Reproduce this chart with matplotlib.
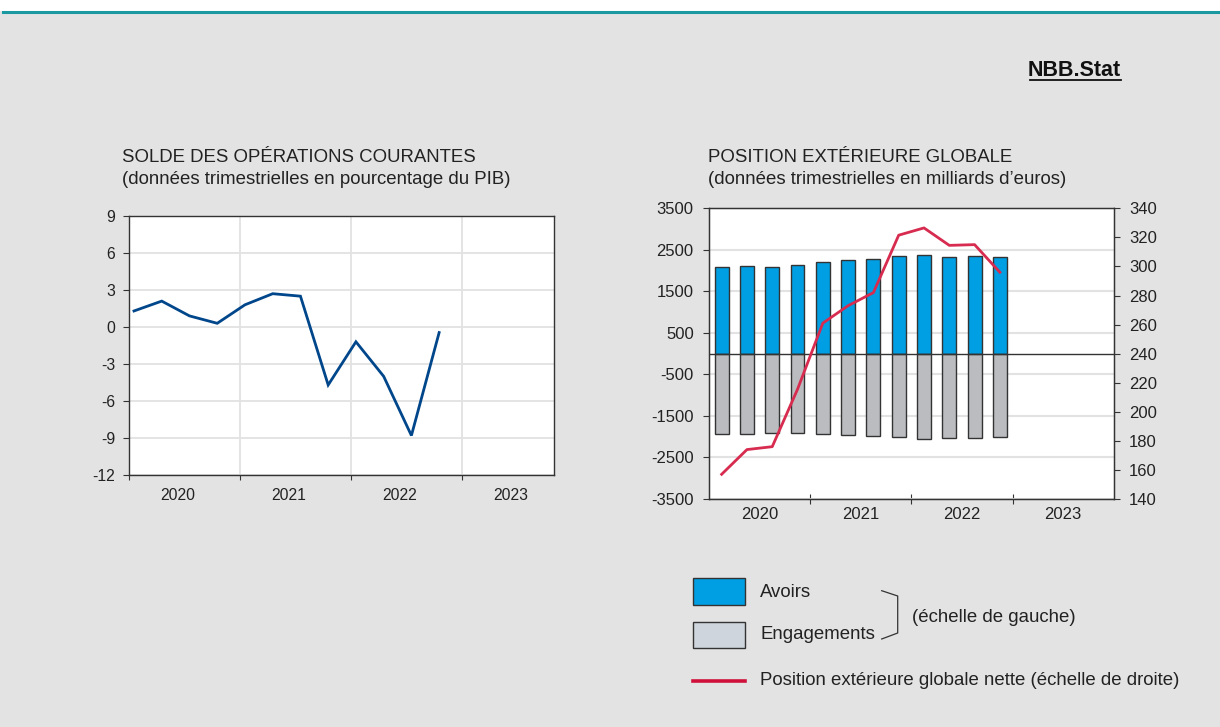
import matplotlib.pyplot as plt
from matplotlib.patches import Rectangle
from matplotlib.lines import Line2D

plt.rcParams['font.family'] = ['Liberation Sans', 'DejaVu Sans']
plt.rcParams['axes.unicode_minus'] = False

# data (quarterly, 2020Q1 - 2022Q4)
years = ['2020', '2021', '2022', '2023']
current_account = [1.3, 2.1, 0.9, 0.3, 1.8, 2.7, 2.5, -4.7, -1.2, -4.0, -8.8, -0.45]
assets = [2095, 2111, 2095, 2143, 2199, 2247, 2287, 2343, 2384, 2335, 2360, 2319]
liabilities = [-1934, -1926, -1910, -1918, -1934, -1966, -1990, -2014, -2047, -2022, -2039, -2014]
net_position = [157, 174, 176, 215.5, 261, 273, 282, 321.5, 326.5, 314.5, 315, 296]

BG = '#e3e3e3'
DARK = '#333333'
GRID = '#e2e2e2'
BLUE_LINE = '#00468b'
BAR_BLUE = '#009fe3'
BAR_GREY = '#bbbcc0'
RED = '#d72b4f'
TXT = '#222222'
FS = 13.4
DY = 2  # small vertical nudge for free text

W, H = 1220, 727


def fx(x):
    return x / W


def fy(y):
    return 1 - y / H


fig = plt.figure(figsize=(12.2, 7.27), dpi=100, facecolor=BG)

# white strip and teal rule at the top
fig.add_artist(Rectangle((0, fy(11)), 1, 11 / H, transform=fig.transFigure,
                         facecolor='white', edgecolor='none'))
fig.add_artist(Line2D([fx(3), 1], [fy(12), fy(12)], transform=fig.transFigure,
                      color='#1a9aa0', lw=2.2))

# NBB.Stat
fig.text(fx(1121), fy(70), 'NBB.Stat', ha='right', va='center', fontsize=15.5,
         fontweight='bold', color='#111111')
fig.add_artist(Line2D([fx(1030), fx(1121)], [fy(79.5), fy(79.5)], transform=fig.transFigure,
                      color='#111111', lw=1.3))


def style_axes(ax):
    ax.set_facecolor('white')
    for s in ax.spines.values():
        s.set_color(DARK)
        s.set_linewidth(1)
    ax.set_axisbelow(True)


# ---------------- left chart ----------------
n = len(current_account)
ax1 = fig.add_axes([fx(129), fy(475), fx(554) - fx(129), fy(216) - fy(475)])
style_axes(ax1)
xq = [i + 0.18 for i in range(n)]
ax1.plot(xq, current_account, color=BLUE_LINE, lw=2.0, solid_joinstyle='miter')
ax1.set_xlim(0, 15.32)
ax1.set_ylim(-12, 9)
ax1.set_yticks(range(-12, 10, 3))
ax1.set_xticks([0, 4, 8, 12])
ax1.set_xticklabels([])
ax1.set_xticks([1.75, 5.75, 9.75, 13.75], minor=True)
ax1.set_xticklabels(years, minor=True)
ax1.tick_params(axis='x', which='major', direction='out', length=3.5, color=DARK)
ax1.tick_params(axis='x', which='minor', length=0, pad=9, labelsize=11.3, labelcolor=TXT)
ax1.tick_params(axis='y', direction='out', length=4, pad=6, labelsize=11.3,
                labelcolor=TXT, color=DARK)
ax1.grid(True, which='major', color=GRID, lw=1.3)

fig.text(fx(122), fy(155 + DY), 'SOLDE DES OPÉRATIONS COURANTES', ha='left', va='center',
         fontsize=FS, color=TXT)
fig.text(fx(122), fy(178 + DY), '(données trimestrielles en pourcentage du PIB)', ha='left',
         va='center', fontsize=FS, color=TXT)

# ---------------- right chart ----------------
ax2 = fig.add_axes([fx(709), fy(499), fx(1113.7) - fx(709), fy(208.3) - fy(499)])
style_axes(ax2)
xb = [i + 0.5 for i in range(n)]
ax2.bar(xb, assets, width=0.55, color=BAR_BLUE, edgecolor=DARK, lw=1)
ax2.bar(xb, liabilities, width=0.55, color=BAR_GREY, edgecolor=DARK, lw=1)
ax2.axhline(0, color=DARK, lw=1)
ax2.set_xlim(0, 16)
ax2.set_ylim(-3500, 3500)
ax2.set_yticks(range(-3500, 3501, 1000))
ax2.yaxis.grid(True, color=GRID, lw=1.5)
ax2.set_xticks([4, 8, 12])
ax2.set_xticklabels([])
ax2.set_xticks([2, 6, 10, 14], minor=True)
ax2.set_xticklabels(years, minor=True)
ax2.tick_params(axis='x', which='major', direction='inout', length=7, color=DARK)
ax2.tick_params(axis='x', which='minor', length=0, pad=6, labelsize=12, labelcolor=TXT)
ax2.tick_params(axis='y', direction='out', length=4, pad=7, labelsize=12,
                labelcolor=TXT, color=DARK)

ax3 = ax2.twinx()
ax3.plot(xb, net_position, color=RED, lw=2.0)
ax3.set_ylim(140, 340)
ax3.set_yticks(range(140, 341, 20))
ax3.tick_params(axis='y', direction='out', length=4, pad=7, labelsize=12,
                labelcolor=TXT, color=DARK)
for s in ax3.spines.values():
    s.set_color(DARK)

fig.text(fx(708), fy(155 + DY), 'POSITION EXTÉRIEURE GLOBALE', ha='left', va='center',
         fontsize=FS, color=TXT)
fig.text(fx(708), fy(178 + DY), '(données trimestrielles en milliards d’euros)', ha='left',
         va='center', fontsize=FS, color=TXT)

# ---------------- legend ----------------
fig.add_artist(Rectangle((fx(692.7), fy(604.7)), fx(745.3) - fx(692.7), fy(578.3) - fy(604.7),
                         transform=fig.transFigure, facecolor=BAR_BLUE, edgecolor=DARK, lw=1))
fig.add_artist(Rectangle((fx(692.7), fy(648.3)), fx(745.3) - fx(692.7), fy(621.7) - fy(648.3),
                         transform=fig.transFigure, facecolor='#cfd5dc', edgecolor=DARK, lw=1))
fig.add_artist(Line2D([fx(692.7), fx(745.3)], [fy(680.5), fy(680.5)], transform=fig.transFigure,
                      color='#d0103a', lw=2.6))
fig.text(fx(760), fy(590.7 + DY), 'Avoirs', ha='left', va='center', fontsize=FS, color=TXT)
fig.text(fx(760), fy(632.7 + DY), 'Engagements', ha='left', va='center', fontsize=FS, color=TXT)
fig.text(fx(912), fy(615.7 + DY), '(échelle de gauche)', ha='left', va='center', fontsize=FS,
         color=TXT)
fig.text(fx(760), fy(678.7 + DY), 'Position extérieure globale nette (échelle de droite)',
         ha='left', va='center', fontsize=FS, color=TXT)
fig.add_artist(Line2D([fx(881.7), fx(897.7), fx(897.7), fx(881.7)],
                      [fy(590.7), fy(596), fy(633), fy(639)], transform=fig.transFigure,
                      color=DARK, lw=0.9))

fig.savefig('out.png', dpi=100, facecolor=BG)
